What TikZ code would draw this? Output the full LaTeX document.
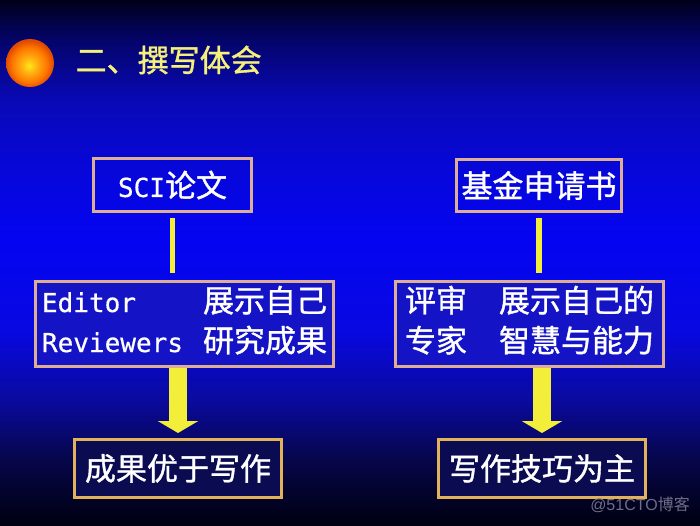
\documentclass[tikz,border=0pt]{standalone}
\usepackage{fontspec}
\setmainfont{Noto Sans CJK SC}[FakeBold=1.2]
\newfontfamily\latin{DejaVu Sans Mono}[Scale=0.84, FakeBold=0.6]
\newfontfamily\wmfont{Liberation Sans}
\newfontfamily\wmcjk{Noto Sans CJK SC}
\usetikzlibrary{arrows.meta}
\definecolor{bga}{HTML}{000010}
\definecolor{bgb}{HTML}{06064A}
\definecolor{bgc}{HTML}{0A0A9E}
\definecolor{bgd}{HTML}{0707DA}
\definecolor{bge}{HTML}{0404F2}
\definecolor{bgf}{HTML}{0808E2}
\definecolor{bgg}{HTML}{0909B6}
\definecolor{bgh}{HTML}{04046A}
\definecolor{bgi}{HTML}{00001A}
\definecolor{balla}{HTML}{FFE818}
\definecolor{ballb}{HTML}{FFB010}
\definecolor{ballc}{HTML}{FF7800}
\definecolor{balld}{HTML}{E04A00}
\definecolor{ttl}{HTML}{F4F07A}
\definecolor{ylw}{HTML}{F2EE3A}
\definecolor{bord}{HTML}{DCAE94}
\definecolor{bordb}{HTML}{E2B25A}
\definecolor{midfill}{HTML}{1414C6}
\definecolor{botfill}{HTML}{0B0B52}
\definecolor{wmc}{HTML}{6E6E86}
\pgfdeclareverticalshading{bgsh}{100bp}{color(0bp)=(bga); color(25bp)=(bga); color(31.19bp)=(bgb); color(36.9bp)=(bgc); color(43.57bp)=(bgf); color(52.14bp)=(bge); color(58.81bp)=(bgd); color(65.48bp)=(bgg); color(71.19bp)=(bgh); color(75bp)=(bgi); color(100bp)=(bgi)}
\pgfdeclareradialshading{ballsh}{\pgfpoint{-1bp}{-3bp}}{color(0bp)=(balla); color(8bp)=(ballb); color(18bp)=(ballc); color(25bp)=(balld); color(50bp)=(balld)}
\tikzset{
  box/.style={draw=bord, line width=3pt, inner sep=0pt, text=white, font=\fontsize{31}{40}\selectfont},
  botbox/.style={box, draw=bordb, fill=botfill},
  conn/.style={draw=ylw, line width=5.5pt, shorten <=5pt, shorten >=7pt},
  bigarrow/.style={draw=ylw, line width=18pt, -{Triangle[width=40pt,length=12pt]}, shorten >=5pt}
}
\begin{document}
\begin{tikzpicture}[x=1pt,y=-1pt]
\useasboundingbox (0,0) rectangle (700,525);
\shade[shading=bgsh] (0,0) rectangle (700,525);
\shade[shading=ballsh] (30,63) circle (24);
\node[anchor=west, inner sep=0pt, text=ttl, font=\fontsize{31}{36}\selectfont] (title) at (75.5,60) {二、撰写体会};
% top boxes
\node[box, minimum width=158pt, minimum height=53pt] (topL) at (172.5,185) {\raisebox{-1.5pt}{{\latin SCI}论文}};
\node[box, minimum width=165pt, minimum height=52pt] (topR) at (539,185.5) {\raisebox{-1.5pt}{基金申请书}};
% middle boxes
\node[box, fill=midfill, minimum width=298pt, minimum height=85pt] (midL) at (184.5,324) {\raisebox{-3pt}{\begin{tabular}{@{}l@{\hspace{20pt}}l@{}}\latin Editor & 展示自己\\ \latin Reviewers & 研究成果\end{tabular}}};
\node[box, fill=midfill, minimum width=268pt, minimum height=85pt] (midR) at (529.5,324) {\raisebox{-3pt}{\begin{tabular}{@{}l@{\hspace{32pt}}l@{}}评审 & 展示自己的\\ 专家 & 智慧与能力\end{tabular}}};
% bottom boxes
\node[botbox, minimum width=207pt, minimum height=58pt] (botL) at (178,468.5) {\raisebox{-4pt}{成果优于写作}};
\node[botbox, minimum width=207pt, minimum height=58pt] (botR) at (542,468.5) {\raisebox{-4pt}{写作技巧为主}};
% connectors
\draw[conn] (topL.south) -- (topL.south |- midL.north);
\draw[conn] (topR.south) -- (topR.south |- midR.north);
\draw[bigarrow] (botL.north |- midL.south) -- (botL.north);
\draw[bigarrow] (botR.north |- midR.south) -- (botR.north);
% watermark
\node[inner sep=0pt, text=wmc, font=\fontsize{16}{18}\selectfont] (wm) at (640,505) {{\wmfont @51CTO}{\wmcjk 博客}};
\end{tikzpicture}
\end{document}
